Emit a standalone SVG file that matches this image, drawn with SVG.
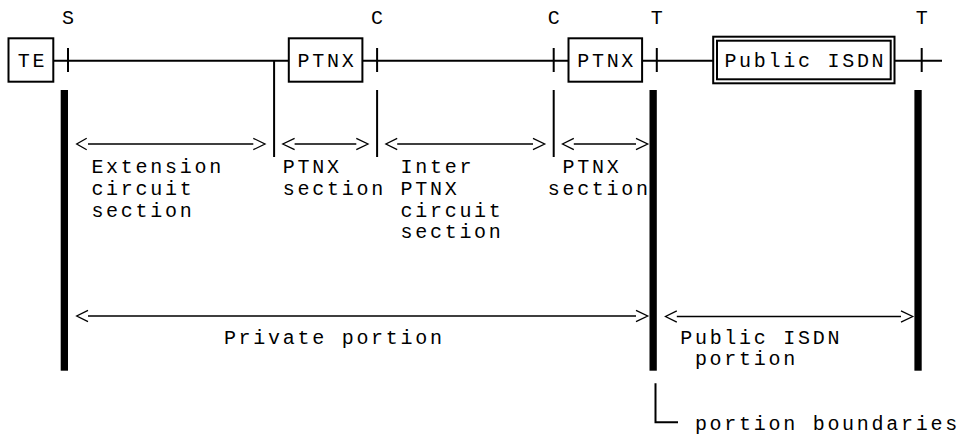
<svg xmlns="http://www.w3.org/2000/svg" width="960" height="435" viewBox="0 0 960 435">
<style>
text{font-family:"Liberation Mono","DejaVu Sans Mono",monospace;font-size:20px;letter-spacing:2.72px;fill:#000}
.box{fill:#fff;stroke:#000;stroke-width:2}
.ln{stroke:#000;stroke-width:2;fill:none}
.ar{stroke:#000;stroke-width:1.3;fill:none}
.bar{fill:#000}
</style>
<rect width="960" height="435" fill="#fff"/>
<g id="ref-labels">
<text x="62" y="24">S</text>
<text x="371.1" y="24">C</text>
<text x="547.7" y="24">C</text>
<text x="650.8" y="24">T</text>
<text x="915.7" y="24">T</text>
</g>
<g id="connectors">
<path class="ln" d="M53.3 60.7H288.8M362.4 60.7H568.5M642.1 60.7H713.2M894.5 60.7H942"/>
<path class="ln" d="M68 48V72M377.1 48V72M553.7 48V72M656.8 48V72M921.7 48V72"/>
<path class="ln" d="M274.1 60.7V157M377.1 90V157M553.7 90V157"/>
</g>
<g id="TE">
<rect class="box" x="8.5" y="38.3" width="44.8" height="43.4"/>
<text x="17.8" y="67">TE</text>
</g>
<g id="PTNX1">
<rect class="box" x="288.8" y="38.3" width="73.6" height="43.4"/>
<text x="297.5" y="67">PTNX</text>
</g>
<g id="PTNX2">
<rect class="box" x="568.5" y="38.3" width="73.6" height="43.4"/>
<text x="577.2" y="67">PTNX</text>
</g>
<g id="PublicISDN">
<rect class="box" x="713.2" y="36.7" width="181.3" height="46.6"/>
<rect class="box" x="717" y="40.7" width="173.7" height="38.6"/>
<text x="724.4" y="67">Public ISDN</text>
</g>
<g id="boundaries">
<rect class="bar" x="60.7" y="90" width="7.3" height="280.7"/>
<rect class="bar" x="649.5" y="90" width="7.3" height="280.7"/>
<rect class="bar" x="914.4" y="90" width="7.3" height="280.7"/>
</g>
<g id="spans">
<path class="ar" d="M88 144H253.3M86.7 138.3L76.7 144L86.7 149.7M253.3 138.3L265 144L253.3 149.7"/>
<path class="ar" d="M294.6 144H356.3M294.6 138.3L282.8 144L294.6 149.7M356.3 138.3L368 144L356.3 149.7"/>
<path class="ar" d="M397.2 144H533M397.2 138.3L385.9 144L397.2 149.7M533 138.3L544.7 144L533 149.7"/>
<path class="ar" d="M573.8 144H636M573.8 138.3L562.5 144L573.8 149.7M636 138.3L647.7 144L636 149.7"/>
<path class="ar" d="M88 316H636M88 310.3L76.7 316L88 321.7M636 310.3L647.7 316L636 321.7"/>
<path class="ar" d="M676.8 316.5H901M676.8 310.8L665.5 316.5L676.8 322.2M901 310.8L912.7 316.5L901 322.2"/>
</g>
<g id="span-labels">
<text x="91.4" y="173.3">Extension</text>
<text x="91.4" y="195">circuit</text>
<text x="91.4" y="216.7">section</text>
<text x="282.8" y="173.3">PTNX</text>
<text x="282.8" y="195">section</text>
<text x="400.5" y="173.3">Inter</text>
<text x="400.5" y="195">PTNX</text>
<text x="400.5" y="216.7">circuit</text>
<text x="400.5" y="238.3">section</text>
<text x="562.5" y="173.3">PTNX</text>
<text x="547.7" y="195">section</text>
<text x="223.9" y="343.7">Private portion</text>
<text x="680.2" y="343.7">Public ISDN</text>
<text x="694.9" y="365.3">portion</text>
</g>
<g id="legend">
<path class="ln" d="M655.5 383.3V422.3H678"/>
<text x="694.9" y="430">portion boundaries</text>
</g>
</svg>
